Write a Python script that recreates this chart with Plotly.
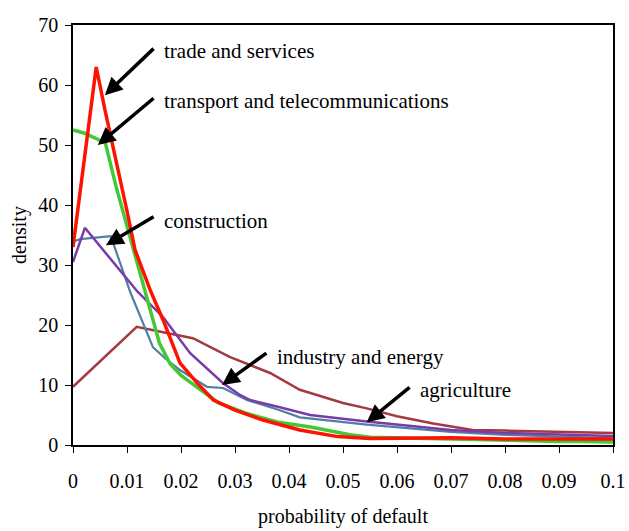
import plotly.graph_objects as go

# probability of default grid points and densities
trade_x = [0, 0.0043, 0.006, 0.008, 0.010, 0.0115, 0.0143, 0.0167, 0.0198, 0.023, 0.026,
           0.030, 0.035, 0.042, 0.049, 0.055, 0.060, 0.065, 0.070, 0.080, 0.090, 0.100]
trade_y = [33, 63, 55.5, 47.5, 39, 32.5, 25.8, 20.8, 13.7, 10.3, 7.5,
           5.8, 4.2, 2.5, 1.4, 1.1, 1.1, 1.2, 1.2, 1.0, 1.0, 1.0]

transport_x = [0, 0.002, 0.004, 0.006, 0.008, 0.010, 0.012, 0.014, 0.016, 0.018, 0.020, 0.023,
               0.027, 0.032, 0.038, 0.044, 0.0513, 0.055, 0.060, 0.065, 0.070, 0.075,
               0.080, 0.085, 0.090, 0.095, 0.100]
transport_y = [52.5, 52, 51.2, 50.3, 43, 36.5, 30, 23.5, 17, 13.5, 11.6, 9.6,
               7, 5.3, 3.8, 3.0, 1.7, 1.3, 1.2, 1.1, 1.0, 0.9,
               0.7, 0.7, 0.6, 0.6, 0.5]

construction_x = [0, 0.0013, 0.007, 0.0106, 0.0148, 0.0174, 0.0198, 0.0248, 0.0278, 0.0322, 0.0383,
                  0.042, 0.0544, 0.070, 0.080, 0.090, 0.100]
construction_y = [33.9, 34.3, 34.8, 25.5, 16.3, 14.2, 12.5, 9.7, 9.5, 7.5, 5.8,
                  4.6, 3.4, 2.2, 1.7, 1.4, 1.1]

industry_x = [0, 0.0022, 0.012, 0.0167, 0.0217, 0.0278, 0.031, 0.0328, 0.0383, 0.0439, 0.0544,
              0.070, 0.080, 0.090, 0.100]
industry_y = [30.5, 36.2, 25.5, 21.3, 15.3, 10.3, 8.3, 7.5, 6.3, 5.0, 3.9,
              2.5, 2.0, 1.7, 1.5]

agriculture_x = [0, 0.0118, 0.0167, 0.0222, 0.029, 0.0365, 0.042, 0.050, 0.0544, 0.060,
                 0.0667, 0.074, 0.080, 0.090, 0.100]
agriculture_y = [9.7, 19.7, 18.8, 17.8, 14.7, 12.0, 9.2, 7.0, 6.1, 4.8,
                 3.6, 2.5, 2.4, 2.2, 2.0]

x_ticks = [0, 0.01, 0.02, 0.03, 0.04, 0.05, 0.06, 0.07, 0.08, 0.09, 0.1]
x_tick_labels = ["0", "0.01", "0.02", "0.03", "0.04", "0.05", "0.06", "0.07", "0.08", "0.09", "0.1"]
y_ticks = [0, 10, 20, 30, 40, 50, 60, 70]

labels = ["trade and services", "transport and telecommunications", "construction",
          "industry and energy", "agriculture"]
# (tip x, tip y, tail x, tail y) for each arrow
arrow_tips_x = [0.0059, 0.0046, 0.0061, 0.0276, 0.0544]
arrow_tips_y = [58.3, 50.0, 33.3, 10.0, 3.8]
arrow_tails_x = [0.0152, 0.0152, 0.0152, 0.0361, 0.0626]
arrow_tails_y = [66.3, 58.0, 38.2, 15.5, 9.8]
label_x = [0.0165, 0.0165, 0.0165, 0.0374, 0.0639]
label_y = [65.6, 57.3, 37.3, 14.7, 9.2]

FONT = "Liberation Serif, Times New Roman, serif"

fig = go.Figure()
fig.add_trace(go.Scatter(x=agriculture_x, y=agriculture_y, mode="lines",
                         line=dict(color="#A33A3F", width=2.5), name="agriculture"))
fig.add_trace(go.Scatter(x=construction_x, y=construction_y, mode="lines",
                         line=dict(color="#4F7FA3", width=2.2), name="construction"))
fig.add_trace(go.Scatter(x=industry_x, y=industry_y, mode="lines",
                         line=dict(color="#7A3AA8", width=2.5), name="industry and energy"))
fig.add_trace(go.Scatter(x=transport_x, y=transport_y, mode="lines",
                         line=dict(color="#44C836", width=3.5), name="transport and telecommunications"))
fig.add_trace(go.Scatter(x=trade_x, y=trade_y, mode="lines",
                         line=dict(color="#FF1200", width=3.5), name="trade and services"))

for i in range(len(labels)):
    fig.add_annotation(x=arrow_tips_x[i], y=arrow_tips_y[i], ax=arrow_tails_x[i], ay=arrow_tails_y[i],
                       axref="x", ayref="y", xref="x", yref="y", text="", showarrow=True,
                       arrowhead=2, arrowsize=1.0, arrowwidth=3.5, arrowcolor="black")
    fig.add_annotation(x=label_x[i], y=label_y[i], xref="x", yref="y", text=labels[i],
                       showarrow=False, xanchor="left", yanchor="middle",
                       font=dict(family=FONT, size=21, color="black"))

fig.update_layout(
    width=629, height=531,
    margin=dict(l=73, r=16, t=25, b=86),
    paper_bgcolor="white", plot_bgcolor="white",
    showlegend=False,
    font=dict(family=FONT, size=20, color="black"),
)
fig.update_xaxes(range=[0, 0.1], tickvals=x_ticks, ticktext=x_tick_labels, automargin=False,
                 showgrid=False, zeroline=False, showline=True, linecolor="black", linewidth=1.5,
                 mirror=True, ticks="outside", ticklen=6, tickcolor="black",
                 ticklabelstandoff=11, tickfont=dict(family=FONT, size=20),
                 title=dict(text="probability of default", standoff=18,
                            font=dict(family=FONT, size=20)))
fig.update_yaxes(range=[0, 70], tickvals=y_ticks, automargin=False,
                 showgrid=False, zeroline=False, showline=True, linecolor="black", linewidth=1.5,
                 mirror=True, ticks="outside", ticklen=6, tickcolor="black",
                 ticklabelstandoff=3, tickfont=dict(family=FONT, size=20),
                 title=dict(text="density", standoff=6, font=dict(family=FONT, size=20)))

fig.write_html("out.html", config={"displayModeBar": False},
               post_script="document.body.style.margin='0px';document.body.style.overflow='hidden';")
